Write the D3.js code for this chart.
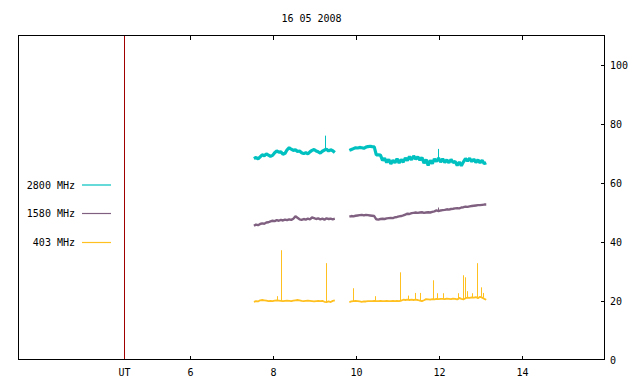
<!DOCTYPE html>
<html>
<head>
<meta charset="utf-8">
<script src="https://cdn.jsdelivr.net/npm/d3@7/dist/d3.min.js"></script>
<style>
  html, body { margin: 0; padding: 0; background: #fff; }
  svg { display: block; }
  text { font-family: "DejaVu Sans Mono", "Liberation Mono", monospace; font-size: 10px; fill: #000; }
</style>
</head>
<body>
<svg id="chart" width="640" height="384"></svg>
<script>
// ---------------- DATA ----------------
const title = "16 05 2008";
const xDomain = [1.876, 16];
const yDomain = [0, 110];
const xTicks = [6, 8, 10, 12, 14];
const yTicks = [0, 20, 40, 60, 80, 100];
const utMarker = 4.43;
const utLabel = "UT";

const seriesNames = ["2800 MHz", "1580 MHz", "403 MHz"];
const seriesColors = ["#00c0c0", "#806080", "#ffc020"];

// time stamps (hours UT)
const times1 = [7.55, 7.60, 7.65, 7.70, 7.75, 7.80, 7.85, 7.90, 7.95, 8.00,
                8.05, 8.10, 8.15, 8.20, 8.25, 8.30, 8.35, 8.40, 8.45, 8.50,
                8.55, 8.60, 8.65, 8.70, 8.75, 8.80, 8.85, 8.90, 8.95, 9.00,
                9.05, 9.10, 9.15, 9.20, 9.25, 9.30, 9.35, 9.40, 9.45, 9.50];
const times2 = [9.85, 9.90, 9.95, 10.00, 10.05, 10.10, 10.15, 10.20, 10.25, 10.30,
                10.35, 10.40, 10.45, 10.50, 10.55, 10.60, 10.65, 10.70, 10.75, 10.80,
                10.85, 10.90, 10.95, 11.00, 11.05, 11.10, 11.15, 11.20, 11.25, 11.30,
                11.35, 11.40, 11.45, 11.50, 11.55, 11.60, 11.65, 11.70, 11.75, 11.80,
                11.85, 11.90, 11.95, 12.00, 12.05, 12.10, 12.15, 12.20, 12.25, 12.30,
                12.35, 12.40, 12.45, 12.50, 12.55, 12.60, 12.65, 12.70, 12.75, 12.80,
                12.85, 12.90, 12.95, 13.00, 13.05, 13.10, 13.15];

// 2800 MHz
const f2800a = [68.2, 68.6, 68.1, 68.8, 69.5, 69.2, 69.8, 69.4, 69.0, 69.3,
                70.2, 70.8, 70.4, 70.5, 69.7, 70.0, 71.2, 71.9, 71.4, 71.0,
                71.2, 70.6, 70.8, 70.2, 69.9, 70.2, 69.8, 70.5, 71.0, 71.3,
                70.8, 70.5, 70.1, 70.7, 71.1, 71.4, 70.8, 71.2, 70.9, 70.3];
const f2800b = [71.0, 71.3, 71.6, 71.9, 71.8, 72.0, 71.9, 71.7, 72.1, 72.3,
                72.4, 72.3, 72.2, 69.5, 69.5, 69.4, 67.6, 68.3, 66.9, 67.9,
                66.4, 67.6, 66.8, 68.2, 66.7, 67.9, 67.0, 68.4, 67.6, 68.9,
                67.8, 69.1, 68.0, 68.8, 67.7, 68.6, 66.6, 67.9, 65.9, 67.6,
                66.5, 68.1, 67.2, 68.4, 67.0, 68.1, 66.9, 67.8, 66.8, 67.9,
                66.9, 67.2, 65.9, 67.0, 65.8, 67.1, 68.2, 67.4, 68.3, 67.2,
                68.0, 66.9, 67.8, 66.8, 67.6, 66.5, 66.8];
const spikes2800 = [[9.27, 76.0], [11.99, 71.5]];

// 1580 MHz
const f1580a = [45.4, 45.8, 45.6, 46.0, 46.2, 46.1, 46.5, 46.6, 46.9, 47.1,
                47.0, 47.3, 47.1, 47.4, 47.2, 47.5, 47.3, 47.6, 47.4, 47.8,
                48.6, 48.1, 47.6, 47.4, 47.7, 47.5, 47.8, 47.6, 48.2, 48.0,
                47.7, 47.9, 47.6, 47.8, 47.5, 47.9, 47.7, 47.8, 47.6, 47.8];
const f1580b = [48.5, 48.7, 48.6, 48.8, 48.9, 49.0, 49.1, 48.9, 49.1, 49.0,
                48.9, 48.8, 48.7, 47.6, 47.5, 47.7, 47.8, 47.7, 47.9, 48.0,
                48.1, 48.0, 48.3, 48.4, 48.6, 48.7, 48.9, 49.2, 49.5, 49.4,
                49.7, 49.8, 49.9, 49.8, 49.9, 50.0, 49.8, 49.9, 50.0, 49.9,
                50.1, 50.3, 50.6, 50.4, 50.6, 50.7, 50.8, 51.0, 50.9, 51.1,
                51.2, 51.3, 51.4, 51.3, 51.6, 51.7, 51.9, 51.8, 52.0, 52.1,
                52.2, 52.3, 52.4, 52.4, 52.5, 52.6, 52.6];
const spikes1580 = [[11.99, 51.6]];

// 403 MHz
const f403a = [19.6, 19.8, 19.7, 20.1, 20.2, 20.1, 20.0, 19.8, 19.9, 19.8,
               20.0, 20.1, 20.0, 19.9, 19.8, 19.9, 20.0, 19.9, 19.8, 20.0,
               20.1, 20.2, 20.1, 19.9, 19.8, 19.9, 20.0, 19.9, 19.8, 19.7,
               19.8, 19.9, 19.8, 19.9, 19.6, 19.5, 19.7, 19.5, 19.9, 20.1];
const f403b = [19.5, 19.7, 19.8, 19.9, 19.8, 19.7, 19.6, 19.7, 19.7, 19.8,
               19.8, 19.8, 19.9, 19.8, 19.8, 19.9, 19.8, 19.8, 19.9, 19.8,
               19.8, 19.9, 19.8, 19.9, 19.8, 20.0, 20.3, 20.2, 20.3, 20.2,
               20.3, 20.2, 20.3, 20.2, 20.0, 19.8, 20.1, 20.5, 20.4, 20.3,
               20.5, 20.4, 20.6, 20.5, 20.6, 20.6, 20.5, 20.7, 20.6, 20.5,
               20.7, 20.6, 20.4, 20.9, 20.6, 20.4, 20.8, 21.0, 20.9, 21.1,
               21.0, 21.2, 20.8, 21.3, 21.0, 20.6, 20.3];
const spikes403 = [[8.11, 21.5], [8.20, 37.1], [9.29, 32.7], [9.94, 24.2], [10.46, 21.5],
                   [11.07, 29.6], [11.26, 21.7], [11.43, 22.6], [11.55, 22.6], [11.87, 26.9],
                   [11.96, 22.5], [12.11, 22.5], [12.47, 22.5], [12.59, 28.6], [12.64, 27.9],
                   [12.68, 23.2], [12.80, 22.5], [12.92, 32.7], [13.02, 24.5], [13.07, 22.6]];

// ---------------- LAYOUT ----------------
const svg = d3.select("#chart");
const L = 18.5, R = 604.5, T = 35.5, B = 359.5;
const x = d3.scaleLinear().domain(xDomain).range([L, R]);
const y = d3.scaleLinear().domain(yDomain).range([B, T]);

function buildSeries(segA, segB) {
  const pts = [];
  times1.forEach((t, i) => pts.push({t, v: segA[i]}));
  pts.push({t: (times1[times1.length - 1] + times2[0]) / 2, v: null});
  times2.forEach((t, i) => pts.push({t, v: segB[i]}));
  return pts;
}
function spikeBase(pts, t) {
  const base = pts.filter(p => p.v !== null);
  return base.reduce((a, b) => Math.abs(b.t - t) < Math.abs(a.t - t) ? b : a).v;
}

const allSeries = [
  buildSeries(f2800a, f2800b),
  buildSeries(f1580a, f1580b),
  buildSeries(f403a, f403b)
];
const allSpikes = [spikes2800, spikes1580, spikes403];
const widths = [3.2, 2.4, 1.8];

const line = d3.line().defined(d => d.v !== null).x(d => x(d.t)).y(d => y(d.v));

// title
svg.append("text").attr("x", (L + R) / 2).attr("y", 22).attr("text-anchor", "middle").text(title);

// UT marker
svg.append("line")
  .attr("x1", Math.round(x(utMarker)) + 0.5).attr("x2", Math.round(x(utMarker)) + 0.5)
  .attr("y1", T).attr("y2", B)
  .attr("stroke", "#a00000").attr("stroke-width", 1);

// data lines (draw 403 first, 2800 last)
[2, 1, 0].forEach(i => {
  const g = svg.append("g");
  g.append("path").datum(allSeries[i])
    .attr("fill", "none").attr("stroke", seriesColors[i])
    .attr("stroke-width", widths[i]).attr("stroke-linejoin", "bevel")
    .attr("d", line);
  g.selectAll("line.spike").data(allSpikes[i]).join("line")
    .attr("class", "spike")
    .attr("x1", d => Math.round(x(d[0])) + 0.5).attr("x2", d => Math.round(x(d[0])) + 0.5)
    .attr("y1", d => y(spikeBase(allSeries[i], d[0]))).attr("y2", d => y(d[1]))
    .attr("stroke", seriesColors[i]).attr("stroke-width", 1);
});

// frame
svg.append("rect").attr("x", L).attr("y", T).attr("width", R - L).attr("height", B - T)
  .attr("fill", "none").attr("stroke", "#000").attr("stroke-width", 1).attr("shape-rendering", "crispEdges");

// x ticks (inward, bottom and top)
const gx = svg.append("g").attr("shape-rendering", "crispEdges");
xTicks.forEach(t => {
  const px = Math.round(x(t)) + 0.5;
  gx.append("line").attr("x1", px).attr("x2", px).attr("y1", B).attr("y2", B - 4).attr("stroke", "#000");
  gx.append("line").attr("x1", px).attr("x2", px).attr("y1", T).attr("y2", T + 4).attr("stroke", "#000");
  gx.append("text").attr("x", px).attr("y", 376).attr("text-anchor", "middle").text(d3.format("d")(t));
});
gx.append("text").attr("x", x(utMarker)).attr("y", 376).attr("text-anchor", "middle").text(utLabel);

// y ticks (right axis, inward)
const gy = svg.append("g").attr("shape-rendering", "crispEdges");
yTicks.forEach(t => {
  const py = Math.round(y(t)) + 0.5;
  if (t > 0) gy.append("line").attr("x1", R - 4).attr("x2", R).attr("y1", py).attr("y2", py).attr("stroke", "#000");
  gy.append("text").attr("x", 610).attr("y", py + 3.5).attr("text-anchor", "start").text(t);
});

// legend
const legendY = [185, 213.5, 242.5];
seriesNames.forEach((name, i) => {
  svg.append("text").attr("x", 75).attr("y", legendY[i] + 3.5).attr("text-anchor", "end").text(name);
  svg.append("line").attr("x1", 82).attr("x2", 111).attr("y1", legendY[i]).attr("y2", legendY[i])
    .attr("stroke", seriesColors[i]).attr("stroke-width", 1.2);
});
</script>
</body>
</html>
